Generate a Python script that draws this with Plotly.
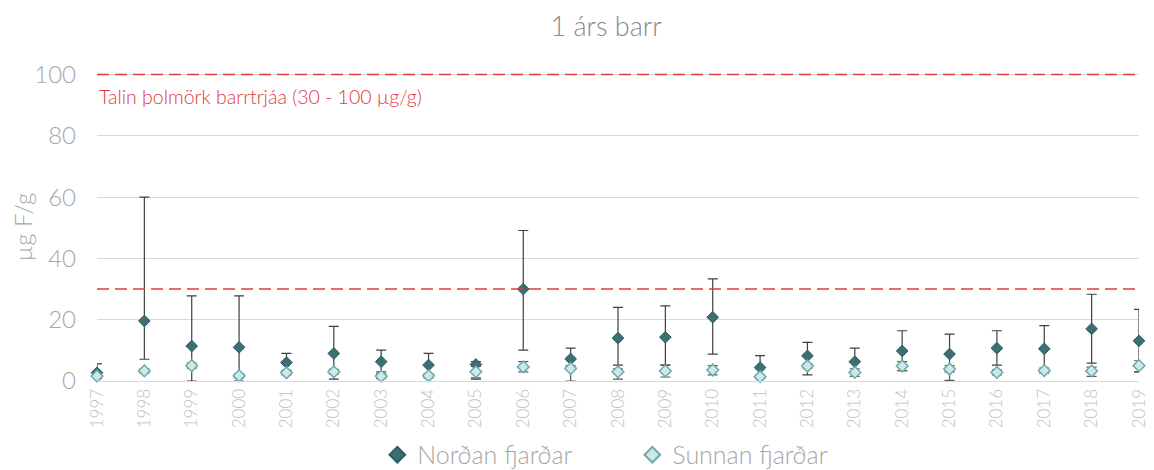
import plotly.graph_objects as go

years = [str(y) for y in range(1997, 2020)]

nordan = [2.7, 19.6, 11.4, 11.0, 6.0, 9.0, 6.3, 5.2, 5.4, 30.0, 7.2, 14.0,
          14.3, 20.8, 4.4, 8.2, 6.3, 9.8, 8.8, 10.7, 10.5, 17.0, 13.1]
nordan_max = [5.6, 60.0, 27.8, 27.8, 9.0, 17.8, 10.1, 9.0, 6.3, 49.1, 10.7, 24.0,
              24.5, 33.3, 8.3, 12.6, 10.7, 16.4, 15.3, 16.4, 18.1, 28.3, 23.4]
nordan_min = [0.8, 7.1, 0.0, 0.0, 3.5, 0.6, 3.0, 2.0, 0.6, 10.1, 4.0, 5.2,
              5.2, 8.8, 1.0, 2.0, 3.0, 3.4, 3.0, 5.2, 3.0, 5.8, 3.0]

sunnan = [1.6, 3.3, 5.0, 1.7, 2.7, 3.0, 1.6, 1.7, 3.0, 4.6, 4.1, 3.0,
          3.3, 3.6, 1.4, 4.9, 2.8, 4.9, 3.9, 2.8, 3.4, 3.3, 5.0]
sunnan_max = [2.2, 4.0, 5.8, 2.4, 3.4, 3.8, 2.4, 2.4, 4.8, 6.3, 5.0, 4.0,
              5.2, 5.0, 2.0, 5.6, 4.0, 6.3, 5.0, 3.6, 4.2, 4.5, 6.6]
sunnan_min = [1.0, 2.6, 4.2, 1.0, 2.0, 2.2, 0.8, 1.0, 1.0, 3.0, 0.0, 0.6,
              1.3, 2.0, 0.8, 4.2, 1.5, 3.4, 0.2, 2.0, 2.6, 1.5, 3.0]

threshold_low = 30
threshold_high = 100
threshold_label = "Talin þolmörk barrtrjáa (30 - 100 µg/g)"

grey = "#a6a6a6"
font_family = "Lato, 'Open Sans', sans-serif"

fig = go.Figure()

fig.add_trace(go.Scatter(
    x=years, y=nordan, mode="markers", name="Norðan fjarðar",
    marker=dict(symbol="diamond", size=9, color="#3b6f74",
                line=dict(color="#2f5d62", width=1)),
    error_y=dict(type="data", symmetric=False,
                 array=[mx - v for mx, v in zip(nordan_max, nordan)],
                 arrayminus=[v - mn for mn, v in zip(nordan_min, nordan)],
                 color="#404040", thickness=1.2, width=5),
    cliponaxis=False,
))

fig.add_trace(go.Scatter(
    x=years, y=sunnan, mode="markers", name="Sunnan fjarðar",
    marker=dict(symbol="diamond", size=9, color="#cde8e8",
                line=dict(color="#6fa9ab", width=1.5)),
    error_y=dict(type="data", symmetric=False,
                 array=[mx - v for mx, v in zip(sunnan_max, sunnan)],
                 arrayminus=[v - mn for mn, v in zip(sunnan_min, sunnan)],
                 color="#595959", thickness=1.2, width=5),
    cliponaxis=False,
))

for yv in (threshold_low, threshold_high):
    fig.add_shape(type="line", xref="paper", yref="y", x0=0, x1=1, y0=yv, y1=yv,
                  line=dict(color="#e03c3c", width=1.6, dash="12px,6px"), layer="above")

fig.add_annotation(xref="paper", yref="y", x=0, y=threshold_high - 7.3,
                   text=threshold_label, showarrow=False, xanchor="left",
                   font=dict(family=font_family, size=19.5, color="#e0383c", weight=300))

fig.update_layout(
    width=1146, height=462,
    margin=dict(l=89, r=15, t=65, b=89, autoexpand=False),
    paper_bgcolor="white", plot_bgcolor="white",
    title=dict(text="1 árs barr", x=0.522, xanchor="center", y=0.959, yanchor="middle",
               font=dict(family=font_family, size=27, color="#8a8a8a", weight=300)),
    font=dict(family=font_family, color=grey, weight=300),
    showlegend=True,
    legend=dict(orientation="h", x=0.269, xanchor="left", y=-0.24, yanchor="middle",
                font=dict(family=font_family, size=25, color=grey, weight=300),
                itemsizing="constant", itemwidth=30,
                entrywidth=210, entrywidthmode="pixels"),
)

fig.update_xaxes(type="category", range=[0, 22], showgrid=False, automargin=False,
                 showline=True, linecolor="#d9d9d9", ticks="",
                 tickangle=-90, tickfont=dict(size=17, color="#bfbfbf", weight=300))
fig.update_yaxes(range=[0, 100.5], tickvals=[0, 20, 40, 60, 80, 100],
                 showgrid=True, gridcolor="#d9d9d9", automargin=False,
                 gridwidth=1, zeroline=False, ticks="", ticklabelstandoff=20,
                 tickfont=dict(size=24, color=grey, weight=300),
                 title=dict(text="µg F/g", font=dict(size=24, color=grey, weight=300), standoff=2))

fig.write_html("out.html")
